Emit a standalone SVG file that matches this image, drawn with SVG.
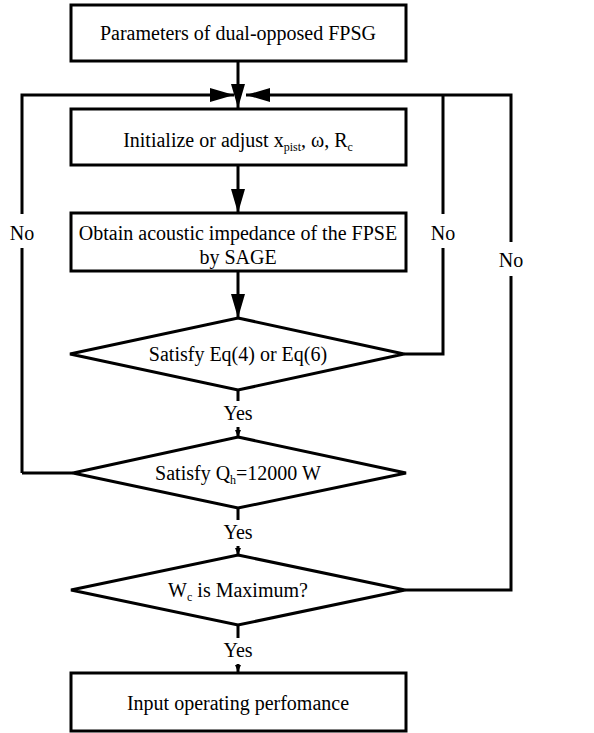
<svg xmlns="http://www.w3.org/2000/svg" width="594" height="733" viewBox="0 0 594 733" font-family="'Liberation Serif', 'DejaVu Serif', serif">
<defs>
<marker id="big" markerUnits="userSpaceOnUse" markerWidth="24" markerHeight="14" refX="24" refY="7" orient="auto"><path d="M0,0 L24,7 L0,14 Z" fill="#000"/></marker>
<marker id="small" markerUnits="userSpaceOnUse" markerWidth="7" markerHeight="6" refX="7" refY="3" orient="auto"><path d="M0,0 L7,3 L0,6 Z" fill="#000"/></marker>
</defs>
<style>
.n{fill:#fff;stroke:#000;stroke-width:3}
.c{fill:none;stroke:#000;stroke-width:3}
text{font-family:'Liberation Serif','DejaVu Serif',serif;font-size:20px;fill:#000}
.m{text-anchor:middle}
.lbl{fill:#fff;stroke:none}
</style>
<rect width="594" height="733" fill="#fff"/>
<g id="connectors">
<path class="c" d="M238,61 V108" marker-end="url(#big)"/>
<path class="c" d="M22,473 H73 M22,473 V95 H234" marker-end="url(#big)"/>
<path class="c" d="M404,354 H443 V95"/>
<path class="c" d="M405,590 H511 V95 H246" marker-end="url(#big)"/>
<path class="c" d="M238,165 V213" marker-end="url(#big)"/>
<path class="c" d="M238,271 V318" marker-end="url(#big)"/>
<path class="c" d="M238,390 V437" marker-end="url(#small)"/>
<path class="c" d="M238,508 V555" marker-end="url(#small)"/>
<path class="c" d="M238,625 V672" marker-end="url(#small)"/>
<rect class="lbl" x="8" y="214" width="30" height="34"/>
<text class="m" x="22" y="240">No</text>
<rect class="lbl" x="429" y="214" width="30" height="34"/>
<text class="m" x="443" y="240">No</text>
<rect class="lbl" x="497" y="242" width="30" height="34"/>
<text class="m" x="511" y="267">No</text>
<rect class="lbl" x="220" y="401" width="36" height="26"/>
<text class="m" x="238" y="420">Yes</text>
<rect class="lbl" x="220" y="520" width="36" height="26"/>
<text class="m" x="238" y="539">Yes</text>
<rect class="lbl" x="220" y="638" width="36" height="26"/>
<text class="m" x="238" y="657">Yes</text>
</g>
<g id="params">
<rect class="n" x="71" y="5" width="335" height="56"/>
<text class="m" x="238" y="40">Parameters of dual-opposed FPSG</text>
</g>
<g id="init">
<rect class="n" x="71" y="109" width="335" height="56"/>
<text class="m" x="238" y="147">Initialize or adjust x<tspan font-size="12" dy="4">pist</tspan><tspan dy="-4">, ω, R</tspan><tspan font-size="12" dy="4">c</tspan></text>
</g>
<g id="sage">
<rect class="n" x="71" y="213" width="335" height="58"/>
<text class="m" x="238" y="240">Obtain acoustic impedance of the FPSE</text>
<text class="m" x="238" y="264">by SAGE</text>
</g>
<g id="eq">
<polygon class="n" points="238,318 404,354 238,390 70,354"/>
<text class="m" x="238" y="361">Satisfy Eq(4) or Eq(6)</text>
</g>
<g id="qh">
<polygon class="n" points="238,437 406,473 238,508 73,473"/>
<text class="m" x="238" y="480">Satisfy Q<tspan font-size="12" dy="4">h</tspan><tspan dy="-4">=12000 W</tspan></text>
</g>
<g id="wc">
<polygon class="n" points="238,555 405,590 238,625 71,590"/>
<text class="m" x="238" y="597">W<tspan font-size="12" dy="4">c</tspan><tspan dy="-4"> is Maximum?</tspan></text>
</g>
<g id="output">
<rect class="n" x="71" y="673" width="335" height="58"/>
<text class="m" x="238" y="710">Input operating perfomance</text>
</g>
</svg>
